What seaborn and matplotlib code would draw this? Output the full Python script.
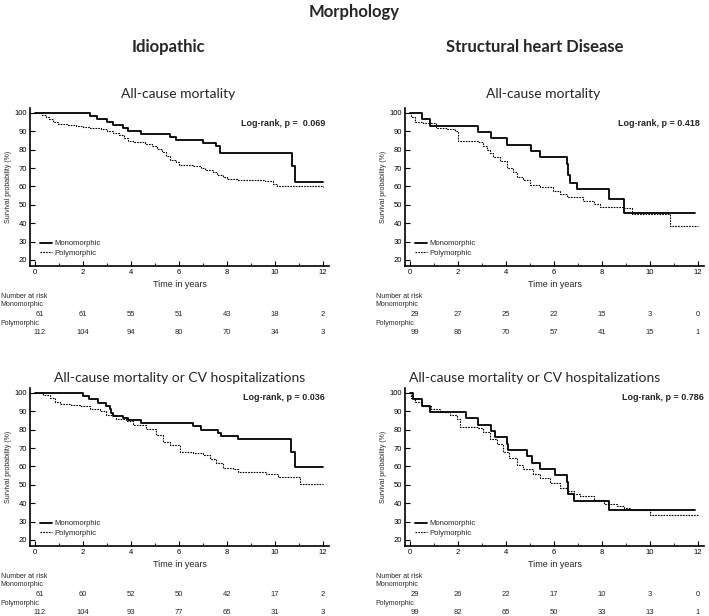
import matplotlib.pyplot as plt
import seaborn as sns
import numpy as np

# ---- data (Kaplan-Meier steps, survival in %) ----
years = [0, 2, 4, 6, 8, 10, 12]

# Idiopathic, all-cause mortality
il_mono_t = [0, 2.29, 2.57, 3.01, 3.26, 3.68, 3.88, 4.44, 5.62, 5.89, 7.0, 7.56, 7.7, 10.72, 10.82, 12.0]
il_mono_s = [100, 98.4, 96.7, 95.1, 93.4, 91.8, 90.2, 88.5, 86.9, 85.2, 83.6, 82.0, 78.3, 71.0, 62.5, 62.5]
il_poly_t = [0, 0.3, 0.45, 0.6, 0.75, 0.95, 1.4, 1.7, 2.0, 2.3, 2.75, 3.0, 3.25, 3.5, 3.7, 3.9, 4.1,
             4.6, 4.9, 5.1, 5.3, 5.45, 5.65, 5.9, 6.0, 6.6, 6.9, 7.1, 7.4, 7.6, 7.85, 8.0, 8.4, 9.6,
             9.9, 10.1, 12.0]
il_poly_s = [100, 99, 98, 96.5, 95, 94, 93.5, 93, 92.5, 92, 91, 90, 89, 88, 86.5, 85, 84,
             83, 82, 80.5, 78.5, 76.5, 74.5, 73.5, 71.5, 71, 70, 69, 68, 66.5, 65, 64, 63.3, 62.7,
             61.5, 60, 59.7]

# Structural heart disease, all-cause mortality
sl_mono_t = [0, 0.49, 0.83, 2.85, 3.37, 4.03, 5.03, 5.42, 6.54, 6.6, 6.68, 6.95, 8.28, 8.93, 11.86]
sl_mono_s = [100, 96.5, 93.1, 89.6, 86.2, 82.7, 79.3, 75.9, 72.0, 66.0, 62.0, 58.5, 53.4, 45.7, 45.7]
sl_poly_t = [0, 0.07, 0.21, 0.56, 1.11, 1.53, 1.88, 2.02, 2.85, 3.06, 3.2, 3.34, 3.48, 3.76, 4.03,
             4.31, 4.45, 4.73, 5.01, 5.42, 5.98, 6.26, 6.54, 6.95, 7.23, 7.65, 7.93, 8.9, 9.25,
             10.85, 12.0]
sl_poly_s = [100, 98, 95, 94.5, 92, 91, 90, 85, 84, 82, 80, 78, 76, 74, 70,
             68, 65, 63.5, 61, 59.5, 57.5, 56, 54.5, 54, 52, 50.5, 49, 48, 45,
             38.5, 38.5]

# Idiopathic, all-cause mortality or CV hospitalizations
ih_mono_t = [0, 2.01, 2.26, 2.64, 2.95, 3.12, 3.19, 3.26, 3.68, 3.88, 4.44, 6.59, 6.93, 7.63, 7.77,
             8.46, 10.68, 10.82, 12.0]
ih_mono_s = [100, 98.2, 96.5, 94.7, 93.0, 91.0, 89.0, 87.5, 86.5, 85.5, 83.7, 81.9, 80.1, 78.3, 76.5,
             74.7, 68.0, 59.5, 59.5]
ih_poly_t = [0, 0.35, 0.62, 0.83, 1.04, 1.5, 1.87, 2.29, 2.7, 2.98, 3.4, 3.81, 4.09, 4.65, 5.06,
             5.34, 5.62, 6.03, 6.59, 7.0, 7.28, 7.56, 7.84, 8.25, 8.46, 9.64, 10.12, 11.03, 12.0]
ih_poly_s = [100, 99, 97, 95, 94, 93.5, 93, 91.5, 90, 88, 86, 84.5, 82.5, 80.5, 77,
             73.5, 71.5, 68, 67.5, 66, 64, 62, 59, 58.5, 57, 56, 54, 50.5, 50.5]

# Structural heart disease, all-cause mortality or CV hospitalizations
sh_mono_t = [0, 0.14, 0.49, 0.83, 2.36, 2.85, 3.37, 3.55, 4.03, 4.1, 4.87, 5.08, 5.42, 6.05, 6.54,
             6.6, 6.82, 8.28, 11.86]
sh_mono_s = [100, 96.5, 93.1, 89.7, 86.2, 82.8, 79.3, 75.9, 72.4, 69.0, 65.5, 62.1, 58.6, 55.2, 51.7,
             44.8, 41.4, 36.2, 36.2]
sh_poly_t = [0, 0.07, 0.21, 0.49, 0.9, 1.25, 1.67, 1.95, 2.09, 2.85, 3.06, 3.34, 3.62, 3.9, 4.13,
             4.45, 4.73, 5.15, 5.42, 5.84, 6.26, 6.54, 6.82, 7.09, 7.65, 8.07, 8.62, 8.9, 9.18,
             10.01, 12.0]
sh_poly_s = [100, 97, 95, 93, 91, 89.5, 88, 86, 81.6, 81, 79, 75, 72, 68, 64.5,
             61, 58.5, 56, 53.5, 51, 48.5, 46.5, 45, 43.7, 41.5, 39.5, 38.5, 37.5, 36.2,
             33.5, 33.5]

# numbers at risk
il_risk_mono = [61, 61, 55, 51, 43, 18, 2]
il_risk_poly = [112, 104, 94, 80, 70, 34, 3]
sl_risk_mono = [29, 27, 25, 22, 15, 3, 0]
sl_risk_poly = [99, 86, 70, 57, 41, 15, 1]
ih_risk_mono = [61, 60, 52, 50, 42, 17, 2]
ih_risk_poly = [112, 104, 93, 77, 65, 31, 3]
sh_risk_mono = [29, 26, 22, 17, 10, 3, 0]
sh_risk_poly = [99, 82, 65, 50, 33, 13, 1]

p_texts = ["Log-rank, p =  0.069", "Log-rank, p = 0.418",
           "Log-rank, p = 0.036", "Log-rank, p = 0.786"]

sns.set_style("ticks")
plt.rcParams["font.family"] = ["Liberation Sans", "DejaVu Sans"]
TITLE_FONT = ["Lato", "DejaVu Sans"]

W, H = 709, 616
fig = plt.figure(figsize=(W / 100, H / 100), dpi=100)


def px_rect(left, top, right, bottom):
    return [left / W, 1 - bottom / H, (right - left) / W, (bottom - top) / H]


panels = [
    (px_rect(30, 108, 329, 266), il_mono_t, il_mono_s, il_poly_t, il_poly_s, il_risk_mono, il_risk_poly, p_texts[0], 94, 12.08),
    (px_rect(405, 108, 704, 266), sl_mono_t, sl_mono_s, sl_poly_t, sl_poly_s, sl_risk_mono, sl_risk_poly, p_texts[1], 94, 12.08),
    (px_rect(30, 388, 329, 546), ih_mono_t, ih_mono_s, ih_poly_t, ih_poly_s, ih_risk_mono, ih_risk_poly, p_texts[2], 97.8, 12.08),
    (px_rect(405, 388, 704, 546), sh_mono_t, sh_mono_s, sh_poly_t, sh_poly_s, sh_risk_mono, sh_risk_poly, p_texts[3], 97.8, 12.25),
]

for rect, mt, ms, pt, ps, rm, rp, ptxt, py, px in panels:
    ax = fig.add_axes(rect)
    sns.lineplot(x=mt, y=ms, ax=ax, color="black", linewidth=1.3, estimator=None,
                 drawstyle="steps-post", label="Monomorphic")
    sns.lineplot(x=pt, y=ps, ax=ax, color="black", linewidth=0.8, estimator=None,
                 drawstyle="steps-post", linestyle=(0, (1.5, 1)), label="Polymorphic")
    ax.set_xlim(-0.2, 12.25)
    ax.set_ylim(16.7, 102.7)
    ax.set_xticks(years)
    ax.set_xticks(range(1, 13, 2), minor=True)
    ax.set_yticks(range(20, 101, 10))
    ax.tick_params(direction="in", length=3.5, width=0.8, labelsize=5.5, pad=2, colors="black")
    ax.tick_params(which="minor", direction="in", length=2, width=0.8)
    sns.despine(ax=ax)
    for sp in ["left", "bottom"]:
        ax.spines[sp].set_linewidth(1.2)
        ax.spines[sp].set_color("black")
    ax.set_xlabel("Time in years", fontsize=6.5, labelpad=3)
    ax.set_ylabel("Survival probability (%)", fontsize=5, labelpad=2)
    ax.text(px, py, ptxt, ha="right", va="center", fontsize=6.5, fontweight="bold")
    ax.legend(loc="lower left", bbox_to_anchor=(0.033, 0.06), frameon=False, fontsize=5.5,
              handlelength=1.6, handletextpad=0.3, labelspacing=0.25, borderaxespad=0,
              borderpad=0)

    # number-at-risk table
    tr = ax.get_xaxis_transform()
    ax.text(-1.42, -0.196, "Number at risk", transform=tr, fontsize=5, ha="left", va="center")
    ax.text(-1.42, -0.245, "Monomorphic", transform=tr, fontsize=5, ha="left", va="center")
    ax.text(-1.42, -0.361, "Polymorphic", transform=tr, fontsize=5, ha="left", va="center")
    for yr, a, b in zip(years, rm, rp):
        ax.text(yr + (0.2 if yr == 0 else 0), -0.304, str(a), transform=tr, fontsize=5.5,
                ha="center", va="center")
        ax.text(yr + (0.2 if yr == 0 else 0), -0.42, str(b), transform=tr, fontsize=5.5,
                ha="center", va="center")

# headings
fig.text(354 / W, 1 - 12 / H, "Morphology", ha="center", va="center", fontsize=12,
         fontweight="bold", family=TITLE_FONT)
fig.text(168 / W, 1 - 47 / H, "Idiopathic", ha="center", va="center", fontsize=12,
         fontweight="bold", family=TITLE_FONT)
fig.text(535 / W, 1 - 47 / H, "Structural heart Disease", ha="center", va="center", fontsize=12,
         fontweight="bold", family=TITLE_FONT)
fig.text(178 / W, 1 - 94 / H, "All-cause mortality", ha="center", va="center", fontsize=10,
         family=TITLE_FONT)
fig.text(543 / W, 1 - 94 / H, "All-cause mortality", ha="center", va="center", fontsize=10,
         family=TITLE_FONT)
fig.text(180 / W, 1 - 378 / H, "All-cause mortality or CV hospitalizations", ha="center",
         va="center", fontsize=10, family=TITLE_FONT)
fig.text(535 / W, 1 - 378 / H, "All-cause mortality or CV hospitalizations", ha="center",
         va="center", fontsize=10, family=TITLE_FONT)

fig.savefig("out.png", dpi=100)
